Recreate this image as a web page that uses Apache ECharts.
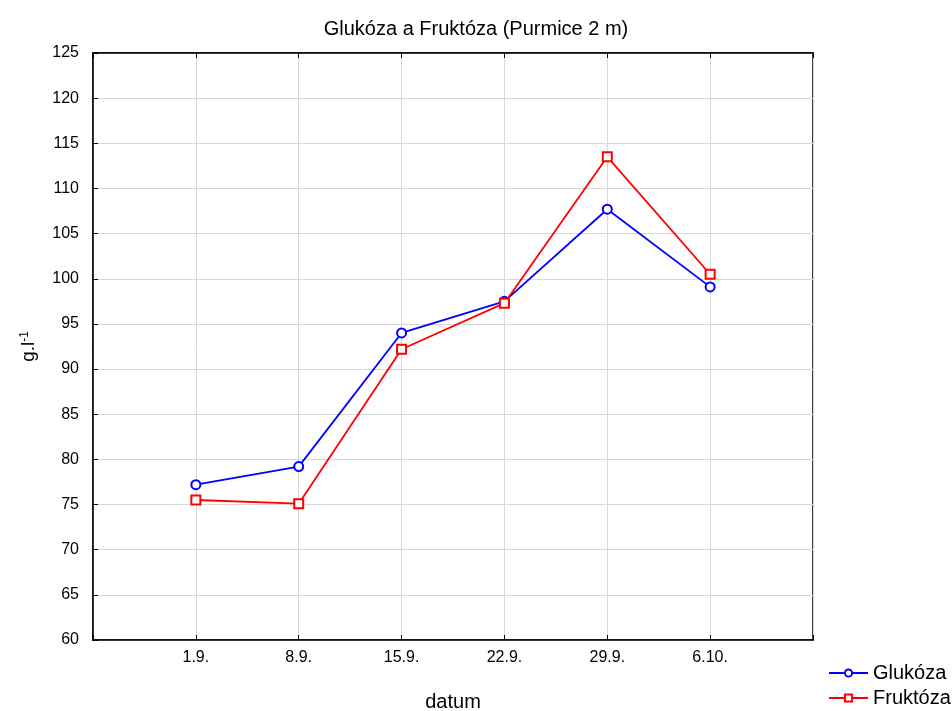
<!DOCTYPE html>
<html>
<head>
<meta charset="utf-8">
<script src="https://cdn.jsdelivr.net/npm/echarts@6/dist/echarts.min.js"></script>
<style>html,body{margin:0;padding:0;background:#fff}#c{width:952px;height:711px}</style>
</head>
<body>
<div id="c"></div>
<script>
var categories = ['1.9.', '8.9.', '15.9.', '22.9.', '29.9.', '6.10.'];
var glukoza = [77.2, 79.2, 94.0, 97.5, 107.7, 99.1];
var fruktoza = [75.5, 75.1, 92.2, 97.3, 113.5, 100.5];

function pairs(vals) { return vals.map(function (v, i) { return [i + 1, v]; }); }

var font = 'Liberation Sans, Arial, sans-serif';
function legendAt(name, top) {
  return {
    orient: 'vertical', left: 828, top: top, padding: 0,
    itemWidth: 39, itemHeight: 9,
    textStyle: { fontFamily: font, fontSize: 20, color: '#000' },
    data: [name]
  };
}
var chart = echarts.init(document.getElementById('c'));
chart.setOption({
  animation: false,
  backgroundColor: '#fff',
  title: {
    text: 'Glukóza a Fruktóza (Purmice 2 m)',
    left: 'center', top: 14,
    textStyle: { fontFamily: font, fontSize: 20, fontWeight: 'normal', color: '#000' }
  },
  grid: { left: 93, right: 139, top: 53, bottom: 71, show: true, borderColor: '#000', borderWidth: 1.5, backgroundColor: 'transparent', outerBoundsMode: 'none', containLabel: false },
  legend: [legendAt('Glukóza', 663), legendAt('Fruktóza', 688)],
  xAxis: [{
    type: 'value', min: 0, max: 7, interval: 1,
    name: 'datum', nameLocation: 'middle', nameGap: 52,
    nameTextStyle: { fontFamily: font, fontSize: 20, color: '#000' },
    axisLine: { show: true, lineStyle: { color: '#000', width: 1.5 } },
    axisTick: { show: true, inside: true, length: 5, lineStyle: { color: '#000' } },
    axisLabel: { fontFamily: font, fontSize: 16, color: '#000', margin: 10,
      formatter: function (v) { return categories[v - 1] || ''; } },
    splitLine: { show: true, lineStyle: { color: '#d8d8d8', width: 1 } }
  }, {
    type: 'value', min: 0, max: 7, interval: 1, position: 'top',
    axisLine: { show: true, lineStyle: { color: '#000', width: 1.5 } },
    axisTick: { show: true, inside: true, length: 5, lineStyle: { color: '#000' } },
    axisLabel: { show: false },
    splitLine: { show: false }
  }],
  yAxis: {
    type: 'value', min: 60, max: 125, interval: 5,
    name: '{a|g.l}{b|-1}', nameLocation: 'middle', nameGap: 54, nameRotate: 90,
    nameTextStyle: {
      rich: {
        a: { fontFamily: font, fontSize: 19, color: '#000' },
        b: { fontFamily: font, fontSize: 12, color: '#000', verticalAlign: 'top', padding: [0, 0, 8, 0] }
      }
    },
    axisLine: { show: true, lineStyle: { color: '#000', width: 1.5 } },
    axisTick: { show: true, inside: true, length: 5, lineStyle: { color: '#000' } },
    axisLabel: { fontFamily: font, fontSize: 16, color: '#000', margin: 14 },
    splitLine: { show: true, lineStyle: { color: '#d8d8d8', width: 1 } }
  },
  series: [{
    name: 'Glukóza', type: 'line', data: pairs(glukoza),
    symbol: 'emptyCircle', symbolSize: 9,
    lineStyle: { color: '#0000ff', width: 1.8 },
    itemStyle: { color: '#0000ff', borderWidth: 1.8 }
  }, {
    name: 'Fruktóza', type: 'line', data: pairs(fruktoza),
    symbol: 'emptyRect', symbolSize: 9,
    lineStyle: { color: '#ff0000', width: 1.8 },
    itemStyle: { color: '#ff0000', borderWidth: 1.8 }
  }]
});
</script>
</body>
</html>
